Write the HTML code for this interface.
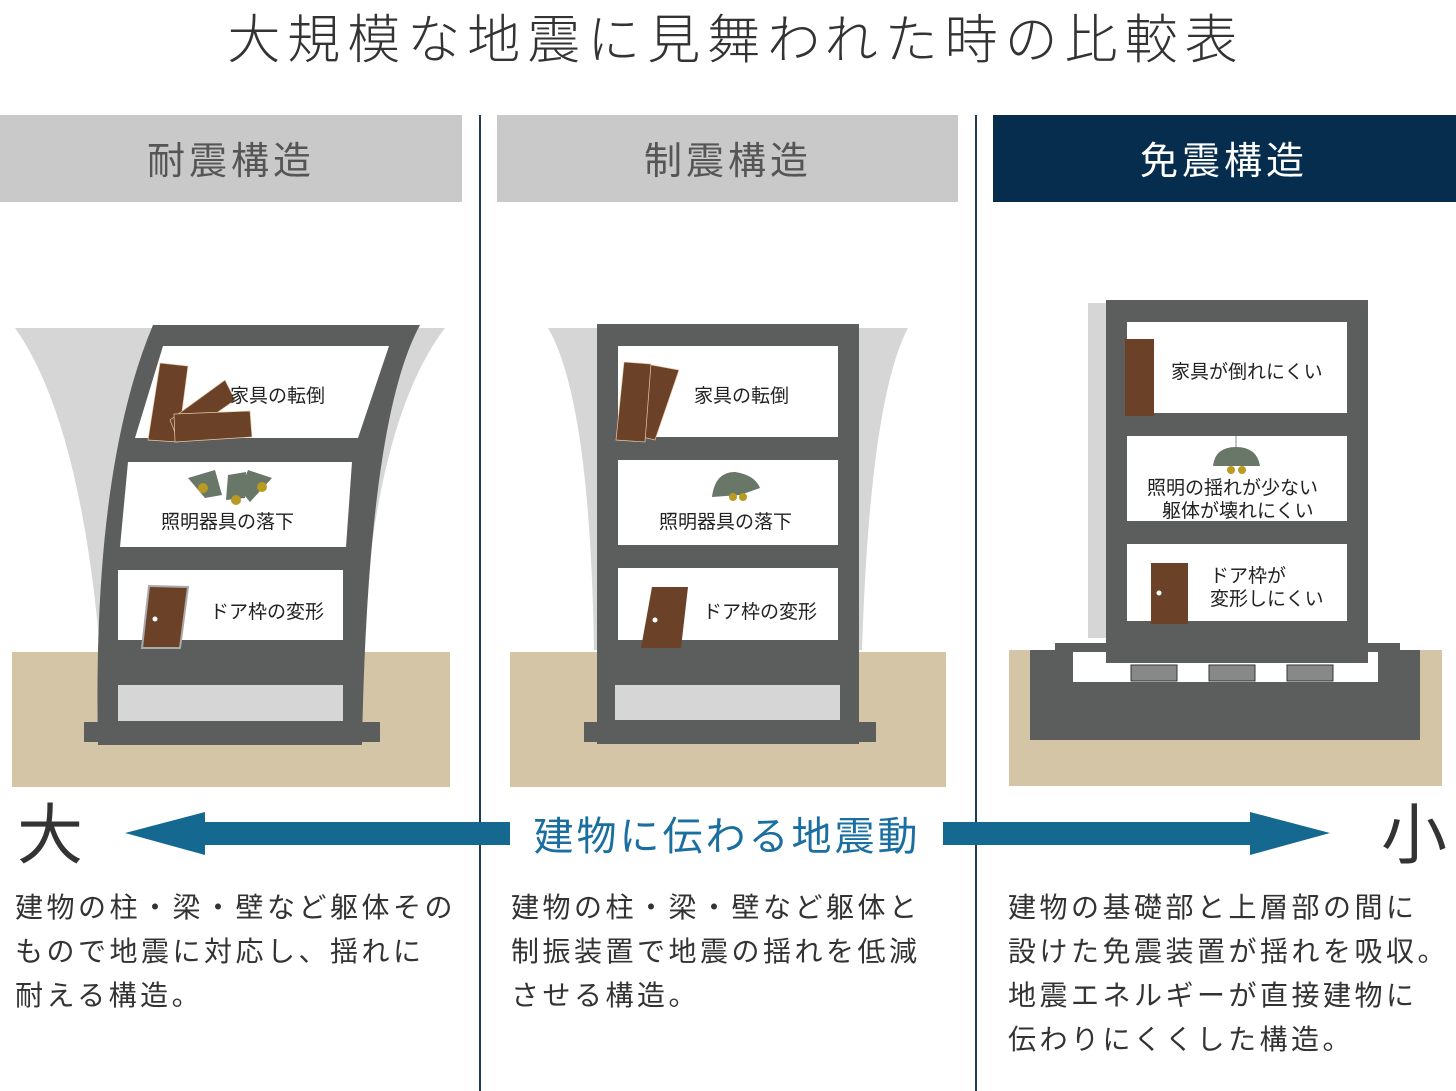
<!DOCTYPE html>
<html><head><meta charset="utf-8"><style>
html,body{margin:0;padding:0;background:#fff;}
svg{display:block;}
text{font-family:"Liberation Sans","Noto Sans CJK JP",sans-serif;}
</style></head><body>
<svg width="1456" height="1091" viewBox="0 0 1456 1091" xmlns="http://www.w3.org/2000/svg">
<text x="736" y="58" text-anchor="middle" font-size="53" fill="#333" font-weight="300" letter-spacing="7">大規模な地震に見舞われた時の比較表</text>

<rect x="0" y="115" width="462" height="87" fill="#c9c9c9"/>
<rect x="497" y="115" width="461" height="87" fill="#c9c9c9"/>
<rect x="993" y="115" width="463" height="87" fill="#062d4d"/>
<text x="231" y="174" text-anchor="middle" font-size="38" fill="#555" letter-spacing="4">耐震構造</text>
<text x="728" y="174" text-anchor="middle" font-size="38" fill="#555" letter-spacing="4">制震構造</text>
<text x="1224" y="174" text-anchor="middle" font-size="38" fill="#fff" letter-spacing="4">免震構造</text>

<line x1="480" y1="115" x2="480" y2="1091" stroke="#1e3a55" stroke-width="2"/>
<line x1="976" y1="115" x2="976" y2="1091" stroke="#1e3a55" stroke-width="2"/>

<!-- LEFT -->
<path d="M15,328 L445,328 Q375,420 362,650 L100,650 Q80,420 15,328Z" fill="#d6d6d6"/>
<rect x="12" y="652" width="438" height="135" fill="#d3c5a5"/>
<path d="M153,325 L420,325 Q368,420 362,745 L98,745 Q92,470 153,325Z" fill="#5b5e5d"/>
<rect x="84" y="722" width="296" height="20" fill="#5b5e5d"/>
<polygon points="163,346 389,346 358,438 135,438" fill="#fff"/>
<polygon points="128,462 352,462 346,547 120,547" fill="#fff"/>
<rect x="118" y="570" width="225" height="70" fill="#fff"/>
<rect x="118" y="685" width="225" height="36" fill="#d6d6d6"/>
<polygon points="160,363 188,366 178,442 148,440" fill="#6b4228" stroke="#e8c9a8" stroke-width="0.7"/>
<polygon points="170,420 225,380 235,400 178,440" fill="#6b4228" stroke="#e8c9a8" stroke-width="0.7"/>
<polygon points="174,414 250,411 252,437 175,442" fill="#6b4228" stroke="#e8c9a8" stroke-width="0.7"/>
<text x="230" y="402" font-size="19" fill="#222">家具の転倒</text>
<g fill="#687767"><polygon points="188,478 215,470 222,495 205,498"/><polygon points="228,475 246,472 245,498 226,500"/><polygon points="248,470 272,478 250,502 240,490"/></g>
<circle cx="203" cy="488" r="5" fill="#b89b20"/><circle cx="236" cy="500" r="5" fill="#b89b20"/><circle cx="262" cy="487" r="5" fill="#b89b20"/>
<text x="161" y="528" font-size="19" fill="#222">照明器具の落下</text>
<polygon points="149,586 188,587 180,648 142,648" fill="#6b4228" stroke="#aaa" stroke-width="2"/>
<circle cx="155" cy="619" r="2.5" fill="#fff"/>
<text x="210" y="618" font-size="19" fill="#222">ドア枠の変形</text>

<!-- MIDDLE -->
<path d="M548,328 L908,328 Q870,400 862,650 L594,650 Q590,400 548,328Z" fill="#d6d6d6"/>
<rect x="510" y="652" width="436" height="135" fill="#d3c5a5"/>
<rect x="597" y="324" width="262" height="420" fill="#5b5e5d"/>
<rect x="584" y="722" width="292" height="20" fill="#5b5e5d"/>
<rect x="618" y="346" width="220" height="91" fill="#fff"/>
<rect x="618" y="460" width="220" height="85" fill="#fff"/>
<rect x="618" y="568" width="220" height="72" fill="#fff"/>
<rect x="615" y="685" width="225" height="35" fill="#d6d6d6"/>
<polygon points="641,363 679,370 655,440 638,436" fill="#6b4228" stroke="#e8c9a8" stroke-width="0.7"/>
<polygon points="624,362 651,364 645,442 616,440" fill="#6b4228" stroke="#e8c9a8" stroke-width="0.7"/>
<text x="694" y="402" font-size="19" fill="#222">家具の転倒</text>
<path d="M712,497 Q715,472 735,472 Q755,475 760,488 L740,495 Z" fill="#687767"/>
<circle cx="733" cy="497" r="4" fill="#b89b20"/><circle cx="743" cy="497" r="4" fill="#b89b20"/>
<text x="659" y="528" font-size="19" fill="#222">照明器具の落下</text>
<polygon points="652,587 688,587 681,648 641,648" fill="#6b4228"/>
<circle cx="655" cy="620" r="2.5" fill="#fff"/>
<text x="703" y="618" font-size="19" fill="#222">ドア枠の変形</text>

<!-- RIGHT -->
<rect x="1009" y="650" width="433" height="136" fill="#d3c5a5"/>
<rect x="1055" y="643" width="345" height="20" fill="#5b5e5d"/>
<rect x="1030" y="650" width="390" height="90" fill="#5b5e5d"/>
<rect x="1073" y="652" width="305" height="30" fill="#fff"/>
<rect x="1088" y="303" width="20" height="335" fill="#d6d6d6"/>
<rect x="1106" y="300" width="262" height="363" fill="#5b5e5d"/>
<g fill="#888" stroke="#333" stroke-width="1"><rect x="1131" y="665" width="46" height="16"/><rect x="1209" y="665" width="46" height="16"/><rect x="1287" y="665" width="46" height="16"/></g>
<rect x="1127" y="322" width="220" height="91" fill="#fff"/>
<rect x="1127" y="436" width="220" height="85" fill="#fff"/>
<rect x="1127" y="544" width="220" height="77" fill="#fff"/>
<rect x="1125" y="339" width="29" height="77" fill="#6b4228"/>
<text x="1171" y="378" font-size="19" fill="#222">家具が倒れにくい</text>
<line x1="1236" y1="436" x2="1236" y2="448" stroke="#888"/>
<path d="M1213,466 Q1215,447 1236,447 Q1257,447 1260,466Z" fill="#687767"/>
<circle cx="1231" cy="470" r="4" fill="#b89b20"/><circle cx="1242" cy="470" r="4" fill="#b89b20"/>
<text x="1147" y="494" font-size="19" fill="#222">照明の揺れが少ない</text>
<text x="1162" y="517" font-size="19" fill="#222">躯体が壊れにくい</text>
<rect x="1151" y="563" width="37" height="61" fill="#6b4228"/>
<circle cx="1159" cy="593" r="2.5" fill="#fff"/>
<text x="1210" y="582" font-size="19" fill="#222">ドア枠が</text>
<text x="1210" y="605" font-size="19" fill="#222">変形しにくい</text>

<!-- Arrows -->
<rect x="205" y="822" width="305" height="23" fill="#15688f"/>
<polygon points="125,833 205,812 205,855" fill="#15688f"/>
<rect x="943" y="822" width="307" height="23" fill="#15688f"/>
<polygon points="1330,833 1250,812 1250,855" fill="#15688f"/>
<text x="727" y="850" text-anchor="middle" font-size="40" fill="#1a6fa0" letter-spacing="3">建物に伝わる地震動</text>
<text x="50" y="858" text-anchor="middle" font-size="66" fill="#333">大</text>
<text x="1414" y="858" text-anchor="middle" font-size="66" fill="#333">小</text>

<g font-size="28" fill="#333" letter-spacing="3.5">
<text x="15" y="917">建物の柱・梁・壁など躯体その</text>
<text x="15" y="961">もので地震に対応し、揺れに</text>
<text x="15" y="1005">耐える構造。</text>
<text x="511" y="917">建物の柱・梁・壁など躯体と</text>
<text x="511" y="961">制振装置で地震の揺れを低減</text>
<text x="511" y="1005">させる構造。</text>
<text x="1008" y="917">建物の基礎部と上層部の間に</text>
<text x="1008" y="961">設けた免震装置が揺れを吸収。</text>
<text x="1008" y="1005">地震エネルギーが直接建物に</text>
<text x="1008" y="1049">伝わりにくくした構造。</text>
</g>
</svg>
</body></html>
